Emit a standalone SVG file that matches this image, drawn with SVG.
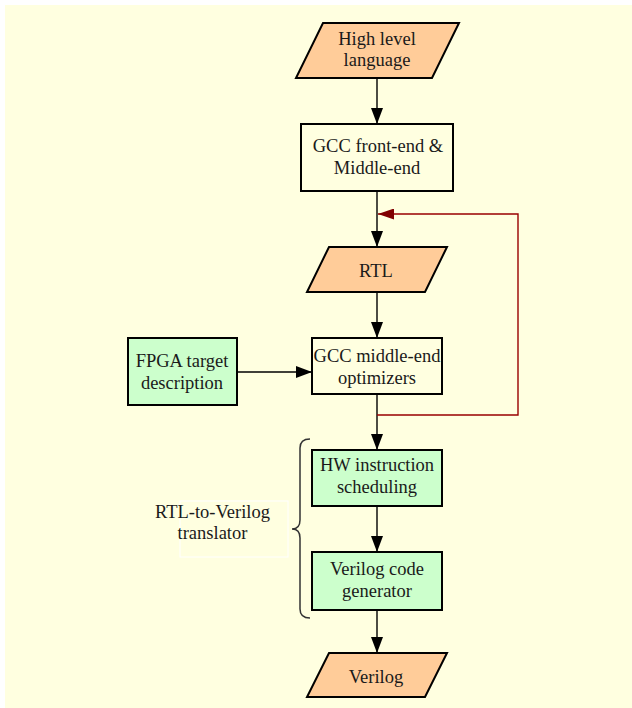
<svg xmlns="http://www.w3.org/2000/svg" width="632" height="708" viewBox="0 0 632 708">
<style>
text{font-family:"Liberation Serif","Times New Roman",serif;font-size:18.5px;fill:#1a1a1a;text-anchor:middle}
.io{fill:#ffcc99;stroke:#000;stroke-width:2}
.proc{fill:#ffffe0;stroke:#000;stroke-width:2}
.hw{fill:#ccffcc;stroke:#000;stroke-width:2}
.edge{fill:none;stroke:#000;stroke-width:1.4}
.back{fill:none;stroke:#990000;stroke-width:1.4}
</style>
<defs>
<marker id="ah" viewBox="0 0 16 12" markerWidth="16" markerHeight="12" refX="16" refY="6" orient="auto" markerUnits="userSpaceOnUse">
<path d="M0,0 L16,6 L0,12 z" fill="#000"/>
</marker>
<marker id="ahr" viewBox="0 0 16 11" markerWidth="16" markerHeight="11" refX="16" refY="5.5" orient="auto" markerUnits="userSpaceOnUse">
<path d="M0,0 L16,5.5 L0,11 z" fill="#800000"/>
</marker>
</defs>
<rect x="5" y="5" width="627" height="703" fill="#ffffe0"/>
<g id="connectors">
<line class="edge" x1="377" y1="78" x2="377" y2="124" marker-end="url(#ah)"/>
<line class="edge" x1="377" y1="191" x2="377" y2="247" marker-end="url(#ah)"/>
<line class="edge" x1="377" y1="292" x2="377" y2="338" marker-end="url(#ah)"/>
<line class="edge" x1="237" y1="372" x2="312" y2="372" marker-end="url(#ah)"/>
<line class="edge" x1="377" y1="394" x2="377" y2="450" marker-end="url(#ah)"/>
<line class="edge" x1="377" y1="506" x2="377" y2="552" marker-end="url(#ah)"/>
<line class="edge" x1="377" y1="610" x2="377" y2="653" marker-end="url(#ah)"/>
<path class="back" d="M377,415 L518,415 L518,214 L378,214" marker-end="url(#ahr)"/>
</g>
<g id="high-level-language">
<polygon class="io" points="323,23 459,23 432,78 296,78"/>
<text x="377" y="45">High level</text>
<text x="377" y="66">language</text>
</g>
<g id="gcc-front-end">
<rect class="proc" x="301" y="124" width="152" height="67"/>
<text x="378" y="152">GCC front-end &amp;</text>
<text x="377" y="174">Middle-end</text>
</g>
<g id="rtl">
<polygon class="io" points="329,247 447,247 425,292 307,292"/>
<text x="376" y="277">RTL</text>
</g>
<g id="fpga-target">
<rect class="hw" x="128" y="338" width="109" height="67"/>
<text x="182" y="367">FPGA target</text>
<text x="182" y="389">description</text>
</g>
<g id="gcc-middle-end">
<rect class="proc" x="312" y="338" width="130" height="56"/>
<text x="377" y="362">GCC middle-end</text>
<text x="377" y="384">optimizers</text>
</g>
<g id="hw-scheduling">
<rect class="hw" x="312" y="450" width="130" height="56"/>
<text x="377" y="471">HW instruction</text>
<text x="377" y="493">scheduling</text>
</g>
<g id="verilog-codegen">
<rect class="hw" x="312" y="552" width="130" height="58"/>
<text x="377" y="575">Verilog code</text>
<text x="377" y="597">generator</text>
</g>
<g id="verilog">
<polygon class="io" points="329,653 447,653 425,697 307,697"/>
<text x="376" y="683">Verilog</text>
</g>
<g id="rtl-to-verilog-translator">
<rect x="180" y="501" width="108" height="56" fill="none" stroke="#ffffff" stroke-width="1"/>
<path d="M310,439 Q300,439 300,448 L300,520 Q300,529 292,529 Q300,529 300,538 L300,609 Q300,618 310,618" fill="none" stroke="#333" stroke-width="1.5"/>
<text x="212.5" y="518">RTL-to-Verilog</text>
<text x="212.5" y="539">translator</text>
</g>
</svg>
